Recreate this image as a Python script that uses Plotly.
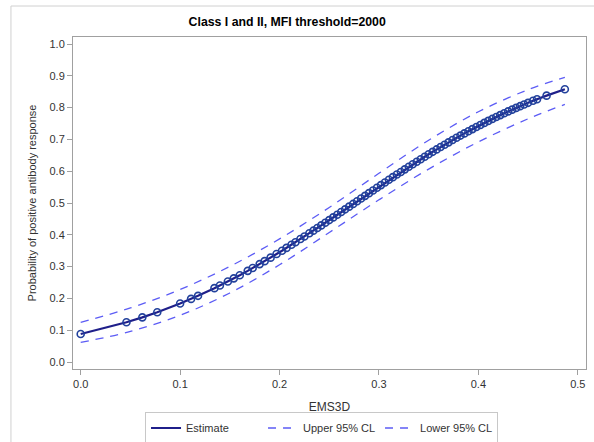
import plotly.graph_objects as go

# Estimate points (EMS3D, predicted probability)
ems3d = [0.0, 0.046, 0.062, 0.077, 0.1, 0.111, 0.118, 0.1345, 0.140, 0.148, 0.154, 0.160,
         0.168, 0.173, 0.180, 0.185, 0.191, 0.197, 0.2025, 0.207, 0.212, 0.216, 0.221,
         0.225, 0.230, 0.234, 0.238, 0.242, 0.246, 0.250, 0.254, 0.258, 0.262, 0.266,
         0.270, 0.274, 0.278, 0.282, 0.286, 0.290, 0.294, 0.298, 0.302, 0.306, 0.310,
         0.314, 0.318, 0.322, 0.326, 0.330, 0.334, 0.338, 0.342, 0.346, 0.350, 0.354,
         0.358, 0.362, 0.366, 0.370, 0.374, 0.378, 0.382, 0.386, 0.390, 0.394, 0.398,
         0.402, 0.406, 0.410, 0.414, 0.418, 0.422, 0.426, 0.430, 0.434, 0.438, 0.442,
         0.446, 0.450, 0.455, 0.459, 0.4686, 0.487]
estimate = [0.088, 0.125, 0.1404, 0.1565, 0.184, 0.1985, 0.2081, 0.2322, 0.2406, 0.2532,
            0.263, 0.273, 0.2866, 0.2954, 0.3079, 0.3171, 0.3282, 0.3395, 0.350, 0.3588,
            0.3687, 0.3766, 0.3866, 0.3947, 0.4049, 0.413, 0.4213, 0.4296, 0.438, 0.4463,
            0.4547, 0.4632, 0.4716, 0.4801, 0.4886, 0.4971, 0.5056, 0.514, 0.5225, 0.531,
            0.5394, 0.5479, 0.5563, 0.5646, 0.573, 0.5813, 0.5895, 0.5977, 0.6058, 0.6139,
            0.6219, 0.6298, 0.6378, 0.6455, 0.6533, 0.6609, 0.6685, 0.676, 0.6834, 0.6907,
            0.6979, 0.705, 0.712, 0.7189, 0.7258, 0.7324, 0.739, 0.7455, 0.7519, 0.7582,
            0.7644, 0.7705, 0.7764, 0.7822, 0.788, 0.7936, 0.7991, 0.8045, 0.8098, 0.815,
            0.8213, 0.8262, 0.8376, 0.8577]

# Confidence limits
cl_x = [0.0, 0.05, 0.1, 0.15, 0.2, 0.25, 0.3, 0.35, 0.4, 0.45, 0.487]
upper = [0.1246, 0.170, 0.228, 0.3005, 0.387, 0.4861, 0.5934, 0.6974, 0.7869, 0.8563, 0.8951]
lower = [0.0615, 0.0962, 0.1469, 0.217, 0.3057, 0.4072, 0.510, 0.6067, 0.6921, 0.7648, 0.810]

x_ticks = [0.0, 0.1, 0.2, 0.3, 0.4, 0.5]
y_ticks = [0.0, 0.1, 0.2, 0.3, 0.4, 0.5, 0.6, 0.7, 0.8, 0.9, 1.0]

NAVY = "#1f1f8a"
MARK = "#22419c"
CL = "#5c5cf5"
FONT = "Liberation Sans, Arial, sans-serif"

fig = go.Figure()
fig.add_trace(go.Scatter(x=cl_x, y=upper, mode="lines", name="Upper 95% CL",
                         line=dict(color=CL, width=1.3, dash="8px,7px", shape="spline"),
                         legendrank=2))
fig.add_trace(go.Scatter(x=cl_x, y=lower, mode="lines", name="Lower 95% CL",
                         line=dict(color=CL, width=1.3, dash="8px,7px", shape="spline"),
                         legendrank=3))
fig.add_trace(go.Scatter(x=ems3d, y=estimate, mode="lines", name="Estimate",
                         line=dict(color=NAVY, width=2.2), legendrank=1))
fig.add_trace(go.Scatter(x=ems3d, y=estimate, mode="markers", showlegend=False,
                         marker=dict(symbol="circle-open", size=7, color=MARK,
                                     line=dict(width=1.6, color=MARK))))

axis_common = dict(showgrid=False, zeroline=False, showline=True, mirror=True,
                   linecolor="#a0a0a0", linewidth=1, ticks="outside", ticklen=5,
                   tickcolor="#a0a0a0", tickformat=".1f", automargin=False,
                   tickfont=dict(family=FONT, size=11, color="#333333"))

fig.update_layout(
    width=594, height=442,
    margin=dict(l=73, r=8, t=37, b=73, autoexpand=False),
    paper_bgcolor="white", plot_bgcolor="white",
    font=dict(family=FONT, color="#333333"),
    title=dict(text="<b>Class I and II, MFI threshold=2000</b>",
               font=dict(family=FONT, size=12.3, color="#000000"),
               x=0.4175, xref="paper", xanchor="center",
               y=1 - 22 / 442, yref="container", yanchor="middle"),
    xaxis=dict(range=[-0.00775, 0.50826], tickvals=x_ticks,
               title=dict(text="EMS3D", font=dict(family=FONT, size=12, color="#333333"),
                          standoff=13),
               **axis_common),
    yaxis=dict(range=[-0.022, 1.022], tickvals=y_ticks,
               title=dict(text="Probability of positive antibody response",
                          font=dict(family=FONT, size=11, color="#333333"), standoff=10),
               **axis_common),
    legend=dict(orientation="h", x=0.1404, y=-0.131, xanchor="left", yanchor="top",
                bordercolor="#c8c8c8", borderwidth=1, bgcolor="white",
                font=dict(family=FONT, size=11, color="#333333"),
                traceorder="normal", itemwidth=30, tracegroupgap=0,
                entrywidth=72, entrywidthmode="pixels"),
    showlegend=True,
    shapes=[dict(type="rect", xref="paper", yref="paper",
                 x0=(11 - 73) / 512.7, x1=1.05, y0=-0.3, y1=(369 - 6) / 332,
                 line=dict(color="#d0d0d0", width=1), fillcolor="rgba(0,0,0,0)",
                 layer="below")],
)

fig.write_html("out.html")
